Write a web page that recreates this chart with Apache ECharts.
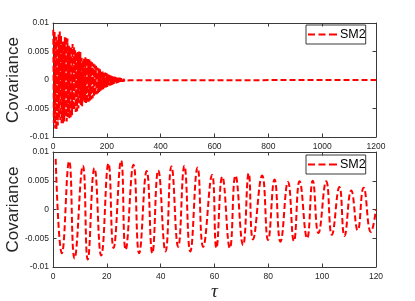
<!DOCTYPE html>
<html>
<head>
<meta charset="utf-8">
<script src="https://cdn.jsdelivr.net/npm/echarts@6/dist/echarts.min.js"></script>
<style>html,body{margin:0;padding:0;background:#fff}#c{width:415px;height:301px}</style>
</head>
<body>
<div id="c"></div>
<script>
// Bottom panel: extremes of the oscillation (tau, covariance)
var bTau = [1.0, 3.3, 6.0, 8.0, 11.1, 12.9, 15.4, 17.9, 20.6, 22.5, 25.3, 27.0, 29.9, 32.0, 34.8, 36.9, 39.1, 41.8, 44.0, 46.5, 48.8, 51.0, 53.7, 55.8, 59.1, 60.7, 62.9, 65.7, 67.8, 70.6, 72.7, 74.3, 77.7, 79.9, 82.3, 84.5, 87.3, 89.5, 91.6, 94.4, 96.5, 98.6, 101.5, 103.6, 106.4, 108.3, 110.8, 113.2, 115.4, 118.1, 120];
var bVal = [0.0088, -0.0076, 0.0084, -0.0085, 0.0076, -0.0087, 0.0072, -0.0080, 0.0080, -0.0067, 0.0085, -0.0070, 0.0078, -0.0076, 0.0067, -0.0076, 0.0068, -0.0073, 0.0075, -0.0065, 0.0076, -0.0073, 0.0073, -0.0065, 0.0060, -0.0067, 0.0057, -0.0067, 0.0059, -0.0062, 0.0063, -0.0052, 0.0059, -0.0053, 0.0052, -0.0056, 0.0048, -0.0055, 0.0049, -0.0050, 0.0050, -0.0041, 0.0049, -0.0044, 0.0039, -0.0046, 0.0033, -0.0036, 0.0038, -0.0039, 0.0000];
// Top panel continuation beyond tau = 120 (decaying oscillation, estimated from the envelope)
var tTau = [120.5, 123.0, 125.4, 127.9, 130.3, 132.8, 135.2, 137.7, 140.1, 142.6, 145.0, 147.5, 149.9, 152.4, 154.8, 157.3, 159.7, 162.2, 164.6, 167.1, 169.5, 172.0, 174.4, 176.9, 179.3, 181.8, 184.2, 186.7, 189.1, 191.6, 194.0, 196.5, 198.9, 201.4, 203.8, 206.3, 208.7, 211.2, 213.6, 216.1, 218.5, 221.0, 223.4, 225.9, 228.3, 230.8, 233.2, 235.7, 238.1, 240.6, 243.0, 245.5, 247.9, 250.4, 252.8, 255.3, 257.7, 260.2, 262.6, 265.1, 267.5, 270.0, 272.4, 274.9, 277.3, 279.8, 282.2, 284.7];
var tVal = [0.0040, -0.0041, 0.0039, -0.0040, 0.0037, -0.0038, 0.0036, -0.0036, 0.0033, -0.0034, 0.0031, -0.0032, 0.0029, -0.0029, 0.0027, -0.0027, 0.0025, -0.0025, 0.0022, -0.0023, 0.0021, -0.0021, 0.0019, -0.0019, 0.0017, -0.0017, 0.0015, -0.0016, 0.0014, -0.0014, 0.0013, -0.0013, 0.0012, -0.0012, 0.0010, -0.0011, 0.0009, -0.0010, 0.0008, -0.0009, 0.0007, -0.0008, 0.0006, -0.0007, 0.0006, -0.0006, 0.0005, -0.0006, 0.0005, -0.0005, 0.0004, -0.0004, 0.0004, -0.0003, 0.0003, -0.0003, 0.0002, -0.0003, 0.0002, -0.0002, 0.00015, -0.00015, 0.0001, -0.0001, 0.0001, -0.00008, 0.00005, -0.00005];
var tailTau = [290, 1200];
var tailVal = [0, 0];
var seriesName = 'SM2';
var topXTicks = [0, 200, 400, 600, 800, 1000, 1200];
var botXTicks = [0, 20, 40, 60, 80, 100, 120];
var yTicks = [-0.01, -0.005, 0, 0.005, 0.01];

function pairs(xs, ys) { var o = []; for (var i = 0; i < xs.length; i++) o.push([xs[i], ys[i]]); return o; }
var bottomData = pairs(bTau, bVal);
var topData = bottomData.concat(pairs(tTau, tVal)).concat(pairs(tailTau, tailVal));

var AX = '#3a3a3a', TXT = '#262626', FONT = 'Liberation Sans, Arial, sans-serif';
function xAx(grid, ticks, pos, showLabel, name) {
  var a = {
    type: 'value', gridIndex: grid, position: pos,
    min: ticks[0], max: ticks[ticks.length - 1], interval: ticks[1] - ticks[0],
    axisLine: { show: true, onZero: false, lineStyle: { color: AX, width: 1 } },
    axisTick: { show: true, inside: true, length: 3.5, lineStyle: { color: AX } },
    axisLabel: { show: showLabel, color: TXT, fontSize: 8.5, fontFamily: FONT, margin: 5,
      formatter: function (v) { return String(v); } },
    splitLine: { show: false }
  };
  if (name) {
    a.name = name; a.nameLocation = 'middle'; a.nameGap = 15; a.nameMoveOverlap = false;
    a.nameTextStyle = { fontFamily: 'Liberation Serif, Times New Roman, serif', fontStyle: 'italic', fontSize: 19, color: TXT };
  }
  return a;
}
function yAx(grid, pos, showLabel, name) {
  var a = {
    type: 'value', gridIndex: grid, position: pos,
    min: yTicks[0], max: yTicks[yTicks.length - 1], interval: yTicks[1] - yTicks[0],
    axisLine: { show: true, onZero: false, lineStyle: { color: AX, width: 1 } },
    axisTick: { show: true, inside: true, length: 3.5, lineStyle: { color: AX } },
    axisLabel: { show: showLabel, color: TXT, fontSize: 8.5, fontFamily: FONT, margin: 4,
      formatter: function (v) { return String(Math.round(v * 1000) / 1000); } },
    splitLine: { show: false }
  };
  if (name) {
    a.name = name; a.nameLocation = 'middle'; a.nameGap = 31; a.nameMoveOverlap = false;
    a.nameTextStyle = { fontFamily: FONT, fontSize: 17, color: TXT };
  }
  return a;
}
var dashIcon = 'path://M0,0h7v2h-7zM10.5,0h7v2h-7zM21,0h8v2h-8z';
function leg(top) {
  return {
    data: [{ name: seriesName, icon: dashIcon }], left: 306, top: top, orient: 'horizontal',
    borderColor: '#3a3a3a', borderWidth: 1, padding: [3, 0, 3, 2],
    itemWidth: 29, itemHeight: 2, selectedMode: false,
    itemStyle: { color: '#ff0000' },
    textStyle: { fontFamily: FONT, fontSize: 12.5, color: '#000', padding: [0, 0, 0, -2] }
  };
}
var lineStyle = { color: '#ff0000', width: 2, type: [6, 3] };

var chart = echarts.init(document.getElementById('c'), null, { renderer: 'canvas' });
chart.setOption({
  animation: false,
  backgroundColor: '#fff',
  grid: [
    { left: 53, top: 23, width: 323, height: 114, outerBoundsMode: 'none', containLabel: false },
    { left: 53, top: 152, width: 323, height: 115, outerBoundsMode: 'none', containLabel: false }
  ],
  legend: [leg(25), leg(155)],
  xAxis: [
    xAx(0, topXTicks, 'bottom', true),
    xAx(0, topXTicks, 'top', false),
    xAx(1, botXTicks, 'bottom', true, '\u03c4'),
    xAx(1, botXTicks, 'top', false)
  ],
  yAxis: [
    yAx(0, 'left', true, 'Covariance'),
    yAx(0, 'right', false),
    yAx(1, 'left', true, 'Covariance'),
    yAx(1, 'right', false)
  ],
  series: [
    { name: seriesName, type: 'line', xAxisIndex: 0, yAxisIndex: 0, data: topData,
      showSymbol: false, symbol: 'none', lineStyle: lineStyle, itemStyle: { color: '#ff0000' }, clip: true },
    { name: seriesName, type: 'line', xAxisIndex: 2, yAxisIndex: 2, data: bottomData,
      showSymbol: false, symbol: 'none', smooth: 0.5, lineStyle: lineStyle, itemStyle: { color: '#ff0000' }, clip: true }
  ]
});
</script>
</body>
</html>
